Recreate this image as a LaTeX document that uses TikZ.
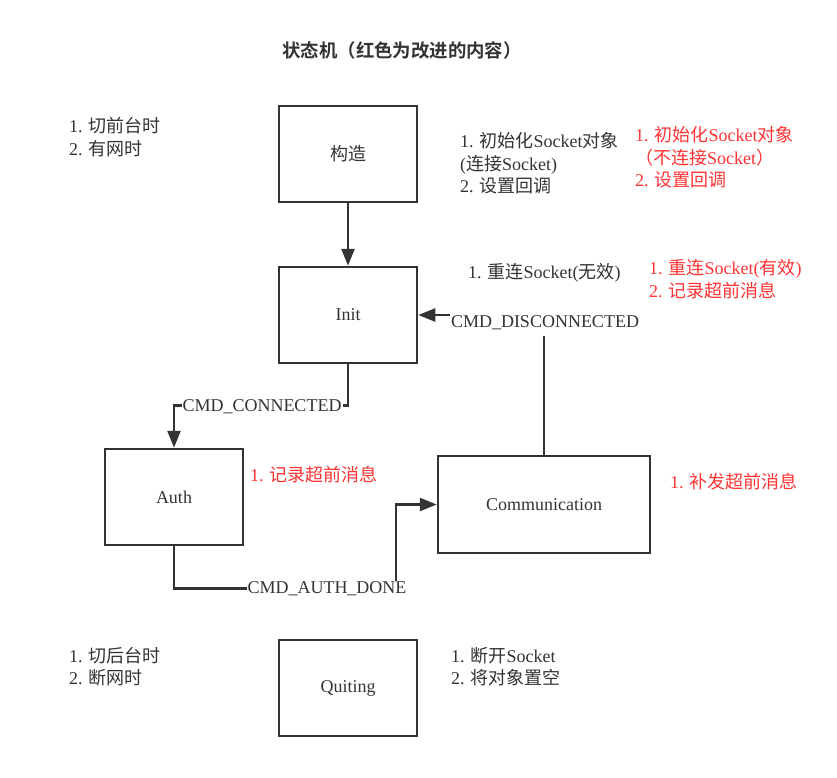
\documentclass[tikz,border=0pt]{standalone}
\usepackage{fontspec}
\setmainfont{Liberation Serif}
\newfontfamily\zhfont{Noto Sans CJK SC}[BoldFont={Noto Sans CJK SC Bold}]
\newcommand{\zh}[1]{{\zhfont #1}}
\usetikzlibrary{arrows.meta}
\definecolor{darkline}{HTML}{333333}
\definecolor{newred}{HTML}{FF3333}

\begin{document}
\begin{tikzpicture}[x=1pt,y=-1pt,
    font=\fontsize{18}{22.5}\selectfont, text=darkline,
    state/.style={draw=darkline,line width=2.5pt,minimum width=138pt,minimum height=96pt,inner sep=0pt},
    edge/.style={draw=darkline,line width=2.5pt,-{Triangle[length=17pt,width=13pt]}},
    event/.style={fill=white,inner sep=1pt},
    note/.style={anchor=west,align=left,inner sep=0pt}]
    \useasboundingbox (0,0) rectangle (837,777);
    \node (title) at (402,50) {\zhfont\bfseries\fontsize{18.4}{22}\selectfont 状态机（红色为改进的内容）};
    % States ================================================
    \node[state]  (build)  at (348,154)   {\zh{构造}};
    \node[state]  (init)   at (348,315)   {Init};
    \node[state]  (auth)   at (174,497)   {Auth};
    \node[state,minimum width=212pt,minimum height=97pt] (comm) at (544,504.5) {Communication};
    \node[state]  (quit)   at (348,688)   {Quiting};
    \coordinate   (bend)   at (396,504.5);
    % Transitions ===========================================
    \draw[edge] (build) -- (init);
    \draw[edge] (init.south) -- ++(0,41) -| (auth.north);
    \node[event]  (connected)    at (262,407) {CMD\_CONNECTED};
    \draw[edge] (auth.south) -- ++(0,42) -| (bend) -- (comm.west);
    \node[event]  (authdone)     at (327,589) {CMD\_AUTH\_DONE};
    \draw[edge] (comm.north) |- (init.east);
    \node[event,inner ysep=6pt]  (disconnected) at (545,323) {CMD\_DISCONNECTED};
    % Notes =================================================
    \node[note] (buildcond) at (69,137)    {1. \zh{切前台时}\\2. \zh{有网时}};
    \node[note] (buildact)  at (460,163.5) {1. \zh{初始化}Socket\zh{对象}\\(\zh{连接}Socket)\\2. \zh{设置回调}};
    \node[note,text=newred] (buildnew) at (635,157.5) {1. \zh{初始化}Socket\zh{对象}\\\zh{（不连接}Socket\zh{）}\\2. \zh{设置回调}};
    \node[note] (initact)   at (468,273)   {1. \zh{重连}Socket(\zh{无效})};
    \node[note,text=newred] (initnew)  at (649,279)   {1. \zh{重连}Socket(\zh{有效})\\2. \zh{记录超前消息}};
    \node[note,text=newred] (authnew)  at (250,475)   {1. \zh{记录超前消息}};
    \node[note,text=newred] (commnew)  at (670,482)   {1. \zh{补发超前消息}};
    \node[note] (quitcond)  at (69,666.5)  {1. \zh{切后台时}\\2. \zh{断网时}};
    \node[note] (quitact)   at (451,666.5) {1. \zh{断开}Socket\\2. \zh{将对象置空}};
\end{tikzpicture}
\end{document}
